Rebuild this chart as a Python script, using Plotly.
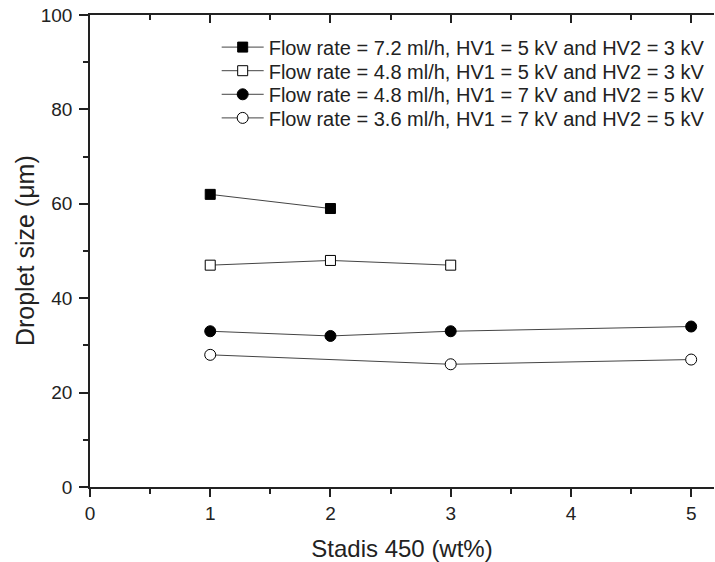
import plotly.graph_objects as go

names = [
    "Flow rate = 7.2 ml/h, HV1 = 5 kV and HV2 = 3 kV",
    "Flow rate = 4.8 ml/h, HV1 = 5 kV and HV2 = 3 kV",
    "Flow rate = 4.8 ml/h, HV1 = 7 kV and HV2 = 5 kV",
    "Flow rate = 3.6 ml/h, HV1 = 7 kV and HV2 = 5 kV",
]
x1 = [1, 2]
y1 = [62, 59]
x2 = [1, 2, 3]
y2 = [47, 48, 47]
x3 = [1, 2, 3, 5]
y3 = [33, 32, 33, 34]
x4 = [1, 3, 5]
y4 = [28, 26, 27]
y_title = "Droplet size (\u03bcm)"
x_title = "Stadis 450 (wt%)"

FONT = "Liberation Sans, Arial, sans-serif"
fig = go.Figure()
specs = [
    (x1, y1, "square", "black", 10),
    (x2, y2, "square", "white", 10),
    (x3, y3, "circle", "black", 11),
    (x4, y4, "circle", "white", 11),
]
legend_ids = ["legend", "legend2", "legend3", "legend4"]
for (xs, ys, sym, fill, sz), nm, lg in zip(specs, names, legend_ids):
    fig.add_trace(go.Scatter(
        x=xs, y=ys, name=nm, mode="lines+markers", legend=lg,
        line=dict(color="#444444", width=1),
        marker=dict(symbol=sym, size=sz, color=fill, line=dict(color="black", width=1)),
    ))

# invisible trace to drive top axis
fig.add_trace(go.Scatter(x=[0, 5], y=[0, 0], xaxis="x2", yaxis="y", showlegend=False,
                         mode="markers", marker=dict(opacity=0), hoverinfo="skip"))

XR = [0, 5.19]
leg_y = [0.932, 0.882, 0.832, 0.782]
legends = {}
for lg, yy in zip(legend_ids, leg_y):
    legends[lg] = dict(x=0.203, y=yy, xanchor="left", yanchor="middle",
                       bgcolor="rgba(0,0,0,0)", font=dict(size=20, family=FONT),
                       itemwidth=42, borderwidth=0)

fig.update_layout(
    width=715, height=562,
    margin=dict(l=90, r=1, t=15, b=75),
    paper_bgcolor="white", plot_bgcolor="white",
    font=dict(family=FONT, size=19, color="#222222"),
    showlegend=True,
    xaxis=dict(range=XR, tickmode="array", tickvals=[0, 1, 2, 3, 4, 5],
               ticks="outside", ticklen=8, tickwidth=1.5, tickcolor="#222",
               showline=True, linecolor="#222", linewidth=1.5, showgrid=False,
               zeroline=False, automargin=False,
               minor=dict(dtick=0.5, ticks="outside", ticklen=5, tickwidth=1.5, tickcolor="#222"),
               title=dict(text=x_title, font=dict(size=24), standoff=20)),
    xaxis2=dict(overlaying="x", side="top", range=XR, anchor="y",
                tickmode="array", tickvals=[0, 1, 2, 3, 4, 5], showticklabels=False,
                ticks="inside", ticklen=8, tickwidth=1.5, tickcolor="#222",
                showline=True, linecolor="#222", linewidth=1.5, showgrid=False,
                zeroline=False, automargin=False,
                minor=dict(dtick=0.5, ticks="inside", ticklen=5, tickwidth=1.5, tickcolor="#222")),
    yaxis=dict(range=[0, 100], tickmode="array", tickvals=[0, 20, 40, 60, 80, 100],
               ticks="outside", ticklen=9, tickwidth=1.5, tickcolor="#222",
               showline=True, linecolor="#222", linewidth=1.5, showgrid=False,
               zeroline=False, automargin=False, ticklabelstandoff=3,
               ticklabeloverflow="allow",
               minor=dict(dtick=10, ticks="outside", ticklen=5, tickwidth=1.5, tickcolor="#222")),
    annotations=[dict(text=y_title, textangle=-90, xref="paper", yref="paper",
                      x=-0.104, y=0.5, xanchor="center", yanchor="middle",
                      showarrow=False, font=dict(size=25, family=FONT, color="#222222"))],
    **legends,
)

fig.write_html("out.html", config={"displayModeBar": False},
               post_script="document.body.style.margin='0';")
